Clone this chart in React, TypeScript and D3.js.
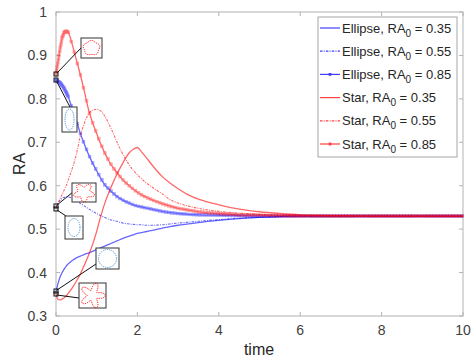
import React from 'react';
import * as d3 from 'd3';

const TIME = [0, 0.05, 0.1, 0.15, 0.2, 0.25, 0.3, 0.4, 0.5, 0.6, 0.7, 0.8, 0.9, 1.0, 1.1, 1.2, 1.3, 1.4, 1.5, 1.6, 1.7, 1.8, 1.9, 2.0, 2.1, 2.2, 2.4, 2.6, 2.8, 3.0, 3.25, 3.5, 4.0, 4.5, 5.0, 5.5, 6.0, 7.0, 8.0, 10.0];

const ELLIPSE_035 = [0.355, 0.375, 0.39, 0.4, 0.408, 0.415, 0.42, 0.428, 0.434, 0.438, 0.442, 0.445, 0.449, 0.453, 0.457, 0.461, 0.465, 0.469, 0.473, 0.477, 0.481, 0.484, 0.487, 0.49, 0.492, 0.494, 0.498, 0.502, 0.506, 0.509, 0.512, 0.515, 0.52, 0.524, 0.527, 0.529, 0.53, 0.53, 0.53, 0.53];
const ELLIPSE_055 = [0.55, 0.56, 0.566, 0.571, 0.573, 0.574, 0.574, 0.571, 0.566, 0.559, 0.553, 0.547, 0.541, 0.536, 0.531, 0.527, 0.523, 0.52, 0.518, 0.515, 0.513, 0.512, 0.511, 0.51, 0.51, 0.509, 0.509, 0.51, 0.512, 0.514, 0.516, 0.518, 0.522, 0.525, 0.527, 0.529, 0.53, 0.53, 0.53, 0.53];
const ELLIPSE_085 = [0.843, 0.84, 0.837, 0.831, 0.824, 0.815, 0.805, 0.777, 0.75, 0.72, 0.695, 0.672, 0.652, 0.634, 0.617, 0.602, 0.592, 0.583, 0.575, 0.569, 0.564, 0.56, 0.556, 0.553, 0.551, 0.549, 0.545, 0.541, 0.538, 0.536, 0.534, 0.533, 0.532, 0.531, 0.53, 0.53, 0.53, 0.53, 0.53, 0.53];
const STAR_035 = [0.352, 0.338, 0.337, 0.339, 0.342, 0.346, 0.352, 0.365, 0.38, 0.397, 0.418, 0.44, 0.465, 0.495, 0.53, 0.56, 0.585, 0.607, 0.627, 0.645, 0.662, 0.676, 0.684, 0.688, 0.678, 0.667, 0.643, 0.622, 0.606, 0.593, 0.579, 0.569, 0.556, 0.546, 0.54, 0.536, 0.533, 0.531, 0.53, 0.53];
const STAR_055 = [0.55, 0.56, 0.57, 0.58, 0.59, 0.6, 0.613, 0.64, 0.672, 0.715, 0.745, 0.765, 0.774, 0.776, 0.772, 0.76, 0.742, 0.722, 0.7, 0.68, 0.663, 0.648, 0.635, 0.625, 0.616, 0.608, 0.594, 0.582, 0.568, 0.56, 0.553, 0.548, 0.541, 0.537, 0.534, 0.532, 0.531, 0.53, 0.53, 0.53];
const STAR_085 = [0.857, 0.885, 0.915, 0.94, 0.953, 0.956, 0.953, 0.925, 0.89, 0.855, 0.816, 0.775, 0.745, 0.72, 0.696, 0.675, 0.657, 0.642, 0.63, 0.618, 0.608, 0.6, 0.592, 0.585, 0.579, 0.574, 0.566, 0.559, 0.553, 0.548, 0.544, 0.54, 0.536, 0.533, 0.532, 0.531, 0.53, 0.53, 0.53, 0.53];

const X_TICKS = [0, 2, 4, 6, 8, 10];
const Y_TICKS = [0.3, 0.4, 0.5, 0.6, 0.7, 0.8, 0.9, 1];
const SHAPES = ['Ellipse', 'Ellipse', 'Ellipse', 'Star', 'Star', 'Star'];
const RA0 = ['0.35', '0.55', '0.85', '0.35', '0.55', '0.85'];
const VALUES = [ELLIPSE_035, ELLIPSE_055, ELLIPSE_085, STAR_035, STAR_055, STAR_085];

const BLUE = '#0000ff';
const RED = '#ff0000';
const FONT = 'Liberation Sans, Arial, Helvetica, sans-serif';

const styles = [
  { color: BLUE, dash: undefined, marker: false },
  { color: BLUE, dash: '2.5,1.2,1,1.2', marker: false },
  { color: BLUE, dash: undefined, marker: true },
  { color: RED, dash: undefined, marker: false },
  { color: RED, dash: '2.5,1.2,1,1.2', marker: false },
  { color: RED, dash: undefined, marker: true },
];

const W = 475, H = 360;
const L = 56, R = 463, T = 12, B = 316;

function starPath(cx: number, cy: number, rx: number, ry: number, a: number, phase: number) {
  const pts: [number, number][] = [];
  for (let i = 0; i <= 200; i++) {
    const th = (i / 200) * Math.PI * 2;
    const r = 1 + a * Math.cos(5 * (th - phase));
    pts.push([cx + rx * r * Math.cos(th), cy + ry * r * Math.sin(th)]);
  }
  return d3.line()(pts) + 'Z';
}

export default function App() {
  const x = d3.scaleLinear().domain([0, 10]).range([L, R]);
  const y = d3.scaleLinear().domain([0.3, 1]).range([B, T]);
  const line = d3.line<[number, number]>().x(d => x(d[0])).y(d => y(d[1])).curve(d3.curveMonotoneX);
  const markerTimes = [...d3.range(0, 0.3, 0.015), ...d3.range(0.3, 10.001, 0.075)];

  const order = [0, 1, 2, 3, 4, 5];

  const insets = [
    { sq: [56, 74], from: [57, 73], to: [81, 48], box: [81, 38, 21, 20], kind: 'star', color: RED, a: 0.08, rx: 8, ry: 7, phase: -Math.PI / 2 },
    { sq: [56, 80], from: [57, 82], to: [70, 107], box: [62, 107, 15, 25], kind: 'ell', color: '#3a8fd6', a: 0, rx: 4.5, ry: 10.5, phase: 0 },
    { sq: [56, 206], from: [57, 205], to: [73, 192], box: [72, 183, 24, 19], kind: 'star', color: RED, a: 0.28, rx: 8.5, ry: 7.5, phase: 0.3 },
    { sq: [56, 209], from: [57, 210], to: [66, 216], box: [65, 216, 18, 23], kind: 'ell', color: '#3a8fd6', a: 0, rx: 6, ry: 9, phase: 0 },
    { sq: [56, 291], from: [57, 290], to: [96, 264], box: [96, 248, 23, 21], kind: 'ell', color: '#3a8fd6', a: 0, rx: 9, ry: 9, phase: 0 },
    { sq: [56, 294], from: [57, 295], to: [79, 298], box: [79, 283, 27, 25], kind: 'star', color: RED, a: 0.42, rx: 9, ry: 9, phase: 0 },
  ];

  return (
    <svg width={W} height={H} style={{ position: 'absolute', left: 0, top: 0, background: '#fff' }} fontFamily={FONT}>
      <rect x={0} y={0} width={W} height={H} fill="#fff" />
      <rect x={L} y={T} width={R - L} height={B - T} fill="none" stroke="#b3b3b3" strokeWidth={1} />
      {X_TICKS.map(t => (
        <g key={'xt' + t}>
          <line x1={x(t)} x2={x(t)} y1={B} y2={B - 4} stroke="#b3b3b3" />
          <line x1={x(t)} x2={x(t)} y1={T} y2={T + 4} stroke="#b3b3b3" />
          <text x={x(t)} y={B + 19} textAnchor="middle" fontSize={14} fill="#404040">{t}</text>
        </g>
      ))}
      {Y_TICKS.map(t => (
        <g key={'yt' + t}>
          <line x1={L} x2={L + 4} y1={y(t)} y2={y(t)} stroke="#b3b3b3" />
          <line x1={R} x2={R - 4} y1={y(t)} y2={y(t)} stroke="#b3b3b3" />
          <text x={L - 9} y={y(t) + 5} textAnchor="end" fontSize={14} fill="#404040">{String(t)}</text>
        </g>
      ))}
      <text x={259} y={355} textAnchor="middle" fontSize={16} fill="#262626">time</text>
      <text transform={`translate(25,164) rotate(-90)`} textAnchor="middle" fontSize={16} fill="#262626">RA</text>

      {order.map(i => {
        const vals = VALUES[i];
        const pts = TIME.map((t, k) => [t, vals[k]] as [number, number]);
        const st = styles[i];
        const interp = d3.scaleLinear().domain(TIME).range(vals);
        return (
          <g key={'s' + i} opacity={0.6}>
            <path d={line(pts) || ''} fill="none" stroke={st.color} strokeWidth={st.dash ? 1.1 : 1.3} strokeDasharray={st.dash} />
            {st.marker && markerTimes.map((t, k) => (
              <rect key={k} x={x(t) - 1.4} y={y(interp(t)) - 1.4} width={2.8} height={2.8} fill={st.color} fillOpacity={0.45} stroke={st.color} strokeWidth={0.5} strokeOpacity={0.7} />
            ))}
          </g>
        );
      })}

      {insets.map((d, i) => {
        const [bx, by, bw, bh] = d.box;
        const cx = bx + bw / 2, cy = by + bh / 2;
        const path = d.kind === 'star'
          ? starPath(cx, cy, d.rx, d.ry, d.a, d.phase)
          : starPath(cx, cy, d.rx, d.ry, 0, 0);
        return (
          <g key={'in' + i}>
            <line x1={d.from[0]} y1={d.from[1]} x2={d.to[0]} y2={d.to[1]} stroke="#111" strokeWidth={1} />
            <rect x={d.sq[0] - 2} y={d.sq[1] - 2} width={4} height={4} fill="none" stroke="#111" strokeWidth={1} />
            <rect x={bx} y={by} width={bw} height={bh} fill="#fff" stroke="#333" strokeWidth={1} />
            <path d={path} fill="none" stroke={d.color} strokeWidth={1} strokeDasharray="1.2,1" />
          </g>
        );
      })}

      <rect x={318} y={17} width={139} height={140} fill="#fff" stroke="#a6a6a6" strokeWidth={1} />
      {SHAPES.map((s, i) => {
        const cy = 28 + i * 23.2;
        const st = styles[i];
        return (
          <g key={'lg' + i}>
            <g opacity={0.75}>
              <line x1={320} x2={340} y1={cy} y2={cy} stroke={st.color} strokeWidth={1.2} strokeDasharray={st.dash} />
              {st.marker && <rect x={328.6} y={cy - 1.4} width={2.8} height={2.8} fill={st.color} />}
            </g>
            <text x={342} y={cy + 4.5} fontSize={13} fill="#262626">
              {s}, RA<tspan dy={4} fontSize={10}>0</tspan><tspan dy={-4}>{' = ' + RA0[i]}</tspan>
            </text>
          </g>
        );
      })}
    </svg>
  );
}
